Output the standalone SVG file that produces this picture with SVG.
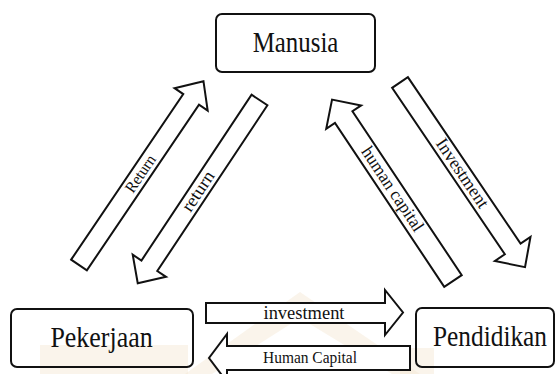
<svg xmlns="http://www.w3.org/2000/svg" width="556" height="374" viewBox="0 0 556 374">
<style>
.box{fill:none;stroke:#111;stroke-width:2}
.arr{fill:#fff;stroke:#111;stroke-width:2;stroke-linejoin:miter}
text{font-family:"Liberation Serif","DejaVu Serif","Times New Roman",serif;fill:#111;text-anchor:middle}
.lbl{font-size:30px}
.wm{fill:#f3e6d2;opacity:0.45}
</style>
<rect width="556" height="374" fill="#fff"/>
<g id="watermark">
<polygon class="wm" points="185,374 300,292 420,374 392,374 300,318 212,374"/>
<rect class="wm" x="40" y="345" width="148" height="29"/>
<rect class="wm" x="400" y="348" width="34" height="26"/>
</g>
<g id="connectors">
<g id="arrow-return-up">
<polygon class="arr" transform="translate(79,265) rotate(-55.9)" points="0,-9.5 200,-9.5 200,-20 222,0 200,20 200,9.5 0,9.5"/>
<text font-size="16" textLength="42" lengthAdjust="spacingAndGlyphs" transform="translate(140.6,173.9) rotate(-55.9)" x="0" y="5">Return</text>
</g>
<g id="arrow-return-down">
<polygon class="arr" transform="translate(259.5,100) rotate(123.6)" points="0,-9.5 199,-9.5 199,-20 220,0 199,20 199,9.5 0,9.5"/>
<text font-size="18" textLength="45" lengthAdjust="spacingAndGlyphs" transform="translate(198.7,191.6) rotate(-56.4)" x="0" y="5">return</text>
</g>
<g id="arrow-human-capital">
<polygon class="arr" transform="translate(453,281) rotate(-123.7)" points="0,-10.5 197,-10.5 197,-21 218,0 197,21 197,10.5 0,10.5"/>
<text font-size="18" textLength="98" lengthAdjust="spacingAndGlyphs" transform="translate(392,189.5) rotate(56.3)" x="0" y="5">human capital</text>
</g>
<g id="arrow-investment-diag">
<polygon class="arr" transform="translate(400,82.5) rotate(55.9)" points="0,-9.5 201,-9.5 201,-21.5 223,0 201,21.5 201,9.5 0,9.5"/>
<text font-size="18" textLength="80" lengthAdjust="spacingAndGlyphs" transform="translate(461.7,173.6) rotate(55.9)" x="0" y="5">Investment</text>
</g>
<g id="arrow-investment">
<polygon class="arr" points="206,303 385,303 385,290 403,312.5 385,335 385,323 206,323"/>
<text font-size="18" textLength="81" lengthAdjust="spacingAndGlyphs" x="304" y="319">investment</text>
</g>
<g id="arrow-human-capital-bottom">
<polygon class="arr" points="410,346 227,346 227,334 209,358 227,382 227,370 410,370"/>
<text font-size="17" textLength="94" lengthAdjust="spacingAndGlyphs" x="310" y="363">Human Capital</text>
</g>
</g>
<g id="node-manusia">
<rect class="box" x="216" y="14" width="159" height="58" rx="6"/>
<text class="lbl" transform="translate(295.5,52) scale(0.83,1)" x="0" y="0">Manusia</text>
</g>
<g id="node-pekerjaan">
<rect class="box" x="11" y="309" width="182" height="58" rx="6"/>
<text class="lbl" transform="translate(101.5,347) scale(0.865,1)" x="0" y="0">Pekerjaan</text>
</g>
<g id="node-pendidikan">
<rect class="box" x="416" y="308" width="138" height="59" rx="6"/>
<text class="lbl" transform="translate(490,346) scale(0.845,1)" x="0" y="0">Pendidikan</text>
</g>
</svg>
